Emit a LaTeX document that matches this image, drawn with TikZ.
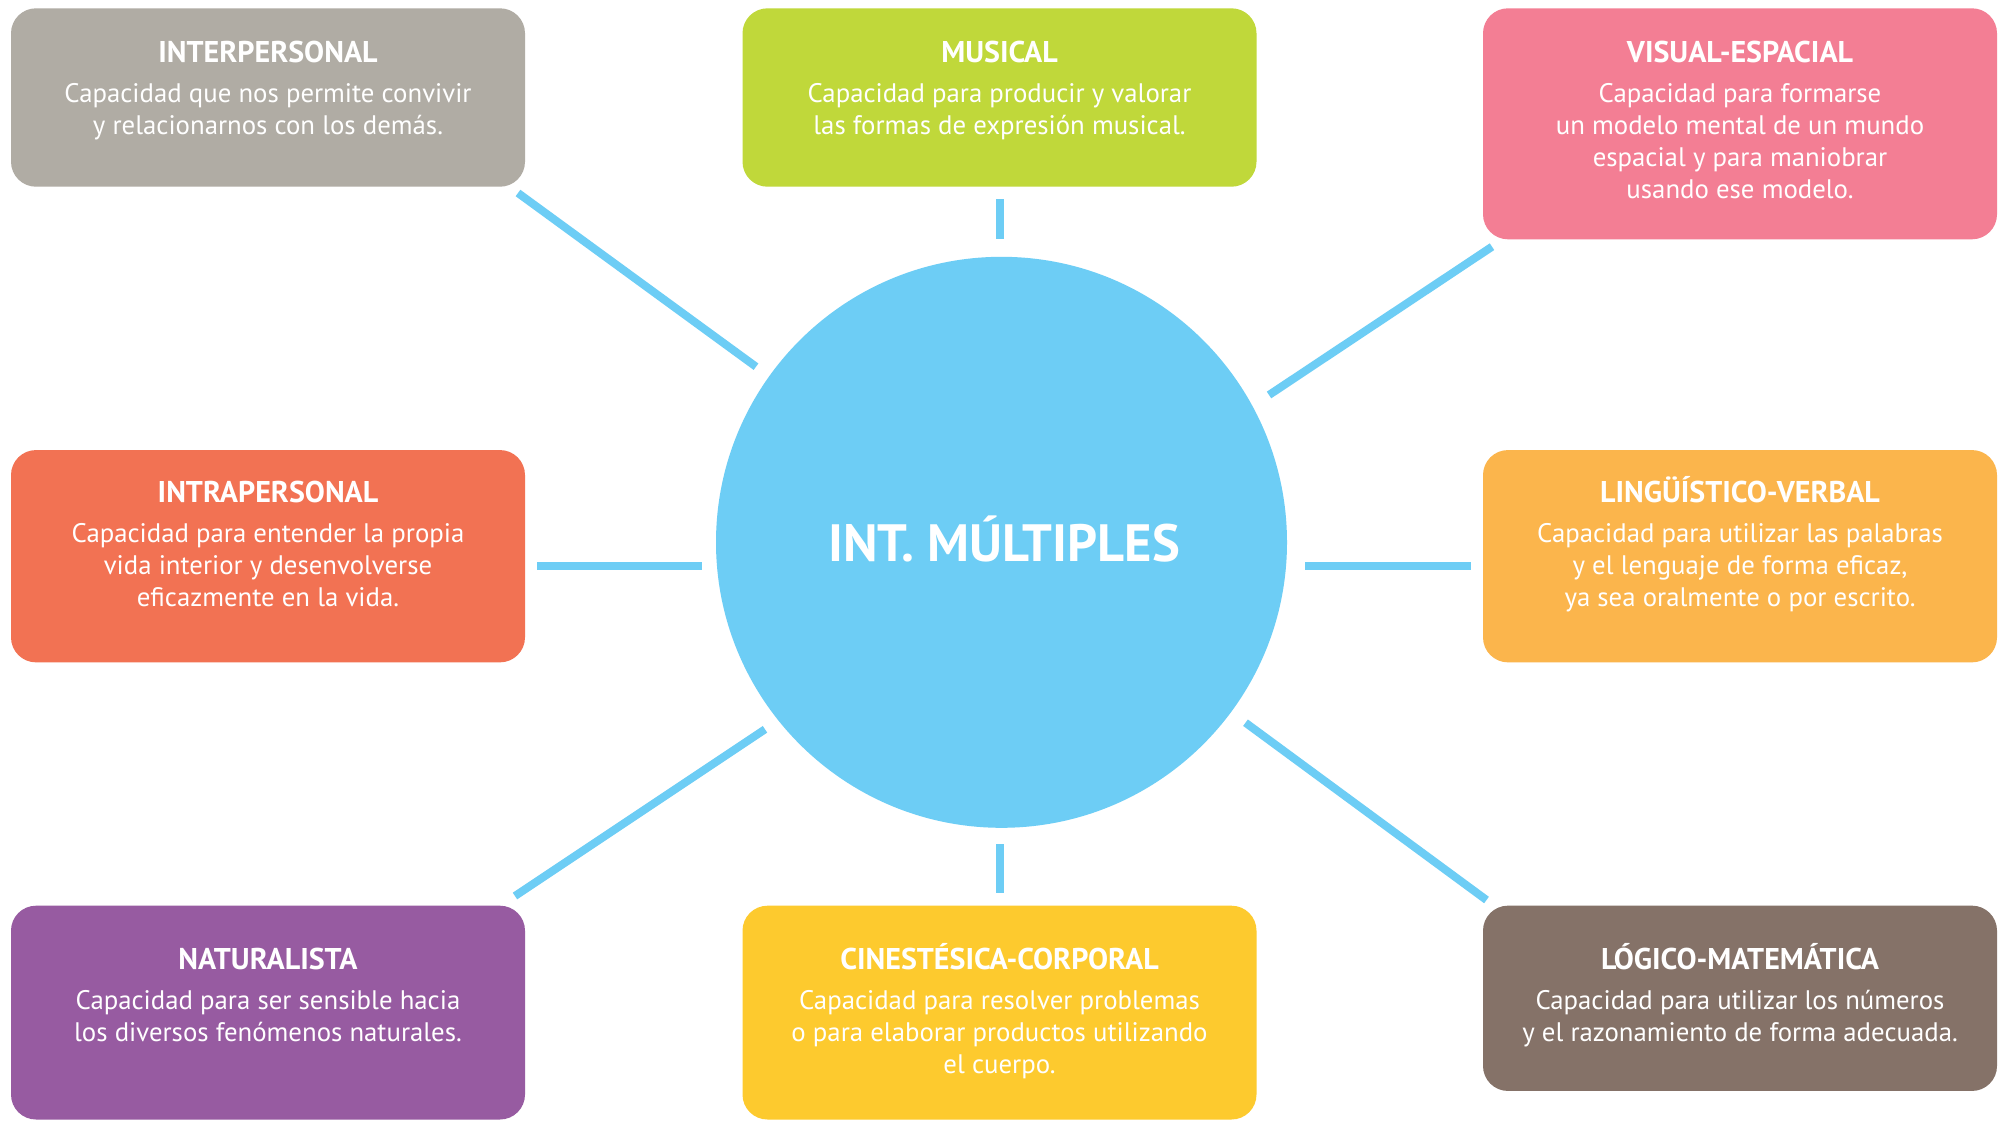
\documentclass[tikz,border=0pt]{standalone}
\usepackage{fontspec}
\setmainfont{PT Sans}
\definecolor{cInter}{HTML}{B0ACA4}
\definecolor{cMusic}{HTML}{C0D83A}
\definecolor{cVisual}{HTML}{F37E94}
\definecolor{cIntra}{HTML}{F27253}
\definecolor{cLing}{HTML}{FBB54C}
\definecolor{cNatur}{HTML}{975BA1}
\definecolor{cCines}{HTML}{FDCA2E}
\definecolor{cLogic}{HTML}{857268}
\definecolor{cBlue}{HTML}{6DCDF5}
\newcommand\bodyfont{\fontsize{26.8}{32}\selectfont}
\newcommand\boxtitle[1]{{\fontsize{30}{32}\selectfont\bfseries\rule{0pt}{34pt}#1}\\[7.5pt]}
\begin{document}
\begin{tikzpicture}[x=1pt,y=-1pt,
  box/.style={rounded corners=25pt, minimum width=514pt, inner sep=0pt, draw=none},
  lbl/.style={text=white, align=center, inner sep=0pt, anchor=north, font=\bodyfont},
  conn/.style={draw=cBlue, line width=8pt},
  hub/.style={circle, fill=cBlue, minimum size=571pt, inner sep=0pt, draw=none}]
\useasboundingbox (0,0) rectangle (2003,1120);
\fill[white] (0,0) rectangle (2003,1120);

% boxes
\node[box, fill=cInter,  minimum height=178.4pt] (inter)  at (268,97.5) {};
\node[box, fill=cMusic,  minimum height=178.4pt] (music)  at (999.5,97.5) {};
\node[box, fill=cVisual, minimum height=231pt]   (visual) at (1740,123.8) {};
\node[box, fill=cIntra,  minimum height=212.3pt] (intra)  at (268,556.2) {};
\node[box, fill=cLing,   minimum height=212.3pt] (ling)   at (1740,556.2) {};
\node[box, fill=cNatur,  minimum height=213.8pt] (natur)  at (268,1012.6) {};
\node[box, fill=cCines,  minimum height=213.8pt] (cines)  at (999.5,1012.6) {};
\node[box, fill=cLogic,  minimum height=185.3pt] (logic)  at (1740,998.3) {};

% hub
\node[hub] (hub) at (1001.5,542.3) {};
\node[text=white, anchor=base, inner sep=0pt, font={\fontsize{52.5}{60}\selectfont\bfseries}] (hubT) at (1004,561) {INT. MÚLTIPLES};

% texts
\node[lbl] (interT) at (268,28.3) {\boxtitle{INTERPERSONAL}Capacidad que nos permite convivir\\y relacionarnos con los demás.};
\node[lbl] (musicT) at (999.5,28.3) {\boxtitle{MUSICAL}Capacidad para producir y valorar\\las formas de expresión musical.};
\node[lbl] (visualT) at (1740,28.3) {\boxtitle{VISUAL-ESPACIAL}Capacidad para formarse\\un modelo mental de un mundo\\espacial y para maniobrar\\usando ese modelo.};
\node[lbl] (intraT) at (268,468.7) {\boxtitle{INTRAPERSONAL}Capacidad para entender la propia\\vida interior y desenvolverse\\eficazmente en la vida.};
\node[lbl] (lingT) at (1740,468.7) {\boxtitle{LINGÜÍSTICO-VERBAL}Capacidad para utilizar las palabras\\y el lenguaje de forma eficaz,\\ya sea oralmente o por escrito.};
\node[lbl] (naturT) at (268,935.3) {\boxtitle{NATURALISTA}Capacidad para ser sensible hacia\\los diversos fenómenos naturales.};
\node[lbl] (cinesT) at (999.5,935.3) {\boxtitle{CINESTÉSICA-CORPORAL}Capacidad para resolver problemas\\o para elaborar productos utilizando\\el cuerpo.};
\node[lbl] (logicT) at (1740,935.3) {\boxtitle{LÓGICO-MATEMÁTICA}Capacidad para utilizar los números\\y el razonamiento de forma adecuada.};

% connector end points
\coordinate (tlA) at (518,193);      \coordinate (tlB) at (756,366.7);
\coordinate (tA)  at (1000,199.3);   \coordinate (tB)  at (1000,239.3);
\coordinate (trA) at (1492,246.7);   \coordinate (trB) at (1269,395);
\coordinate (lA)  at (537,566);      \coordinate (lB)  at (702,566);
\coordinate (rA)  at (1305,566);     \coordinate (rB)  at (1471,566);
\coordinate (blA) at (765,729.3);    \coordinate (blB) at (515,896);
\coordinate (bA)  at (1000,844.3);   \coordinate (bB)  at (1000,893.3);
\coordinate (brA) at (1245.5,722.7); \coordinate (brB) at (1486.5,900);

\draw[conn] (tlA) -- (tlB);
\draw[conn] (tA) -- (tB);
\draw[conn] (trA) -- (trB);
\draw[conn] (lA) -- (lB);
\draw[conn] (rA) -- (rB);
\draw[conn] (blA) -- (blB);
\draw[conn] (bA) -- (bB);
\draw[conn] (brA) -- (brB);
\end{tikzpicture}
\end{document}
